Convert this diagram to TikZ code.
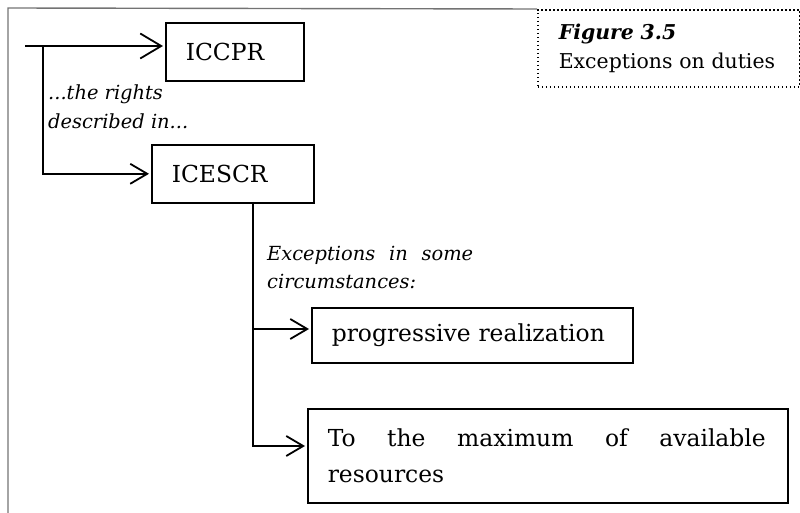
\documentclass[tikz,border=0pt]{standalone}
\usepackage{fontspec}
\setmainfont{DejaVu Serif}
\usetikzlibrary{arrows.meta}

\newcommand{\boxfont}{\fontsize{23.5}{37}\selectfont}
\newcommand{\notefont}{\itshape\fontsize{19.5}{28.5}\selectfont}
\newcommand{\capfont}{\fontsize{20.5}{29}\selectfont}

\begin{document}
\begin{tikzpicture}[
  x=1bp, y=-1bp,
  box/.style={draw, line width=1.6bp, anchor=north west, inner xsep=20bp,
    inner ysep=0pt, align=left, font=\boxfont},
  note/.style={anchor=north west, inner sep=0pt, align=left, font=\notefont},
  wire/.style={line width=1.8bp},
  feed/.style={wire, shorten >=2bp,
    -{Straight Barb[length=17bp, width=20bp]}},
  bigfeed/.style={wire, shorten >=2bp,
    -{Straight Barb[length=21bp, width=25bp]}},
  frame/.style={line width=1.4bp, draw=black!55},
  capbox/.style={draw, line width=1.6bp, dash pattern=on 1.6bp off 2.4bp,
    anchor=north west, inner xsep=21bp, inner ysep=0pt, align=left,
    font=\capfont}
]
\useasboundingbox (0,0) rectangle (800,513);

% caption box and the page frame
\node[capbox, text width=220bp, minimum height=77bp] (cap) at (537,9)
  {\textbf{\textit{Figure 3.5}}\\Exceptions on duties};
\draw[frame] (cap.north west) -- (8,8) -- (8,514);

% treaty boxes
\node[box, text width=98bp, minimum height=58bp] (iccpr) at (165,22) {ICCPR};
\node[box, text width=122bp, minimum height=58bp] (icescr) at (151,144) {ICESCR};

% exception boxes
\node[box, text width=281bp, minimum height=55bp] (prog) at (311,307)
  {progressive realization};
\node[box, text width=440bp, minimum height=94bp] (maxres) at (307,408)
  {\hbox to 438bp{To\hfill the\hfill maximum\hfill of\hfill available}\\resources};

% side notes
\node[note] (rights) at (48,85) {...the rights\\described in...};
\node[note] (except) at (267,246)
  {\hbox to 206bp{Exceptions\hfill in\hfill some}\\circumstances:};

% connectors
\coordinate (start) at (25,46);
\coordinate (fork) at (43,46);
\coordinate (drop) at (253,202);
\coordinate (b1) at (253,329);
\coordinate (b2) at (253,446);

\draw[bigfeed] (start) -- (start -| iccpr.west);
\draw[feed] (fork) |- (icescr.west);
\draw[feed] (drop) |- (b2 -| maxres.west);
\draw[feed] (b1) -- (b1 -| prog.west);
\end{tikzpicture}
\end{document}
